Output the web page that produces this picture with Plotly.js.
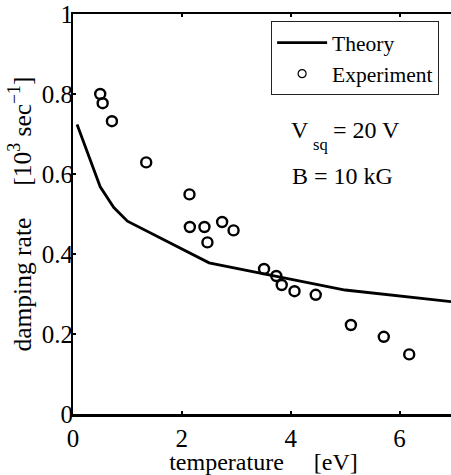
<!DOCTYPE html>
<html>
<head>
<meta charset="utf-8">
<script src="https://cdn.plot.ly/plotly-3.0.1.min.js"></script>
<style>
html,body{margin:0;padding:0;overflow:hidden;background:#fff;}
#chart{width:455px;height:475px;}
</style>
</head>
<body>
<div id="chart"></div>
<script>
// Theory curve
var theoryT = [0.075, 0.25, 0.5, 0.75, 1.0, 2.5, 5.0, 7.0];
var theoryRate = [0.724, 0.661, 0.568, 0.516, 0.482, 0.378, 0.31, 0.28];

// Experiment points
var expT = [0.50, 0.545, 0.715, 1.345, 2.14, 2.147, 2.415, 2.47, 2.74, 2.95, 3.51, 3.735, 3.835, 4.07, 4.46, 5.106, 5.71, 6.177];
var expRate = [0.80, 0.777, 0.732, 0.629, 0.549, 0.4675, 0.4675, 0.429, 0.48, 0.459, 0.3625, 0.345, 0.3225, 0.307, 0.298, 0.2225, 0.193, 0.149];

var xTicks = [0, 2, 4, 6];
var yTicks = [0, 0.2, 0.4, 0.6, 0.8, 1];
var yTickText = ['0', '0.2', '0.4', '0.6', '0.8', '1'];

var serif = 'Liberation Serif, Times New Roman, serif';

var traces = [
  {x: theoryT, y: theoryRate, mode: 'lines', name: 'Theory',
   line: {color: '#000', width: 2.8}, hoverinfo: 'skip'},
  {x: expT, y: expRate, mode: 'markers', name: 'Experiment', showlegend: false,
   marker: {symbol: 'circle-open', size: 10, color: '#000', line: {color: '#000', width: 2.4}}},
  {x: [null], y: [null], mode: 'markers', name: 'Experiment',
   marker: {symbol: 'circle-open', size: 8, color: '#000', line: {color: '#000', width: 1.2}}},
  // carrier for the y tick labels (drawn on an overlaid axis so they sit close to the frame)
  {x: [null], y: [null], yaxis: 'y2', showlegend: false, hoverinfo: 'skip', mode: 'markers'}
];

var annFont = function (s) { return {family: serif, size: s, color: '#000'}; };

var layout = {
  width: 455, height: 475,
  margin: {l: 73, r: 1, t: 14, b: 61},
  paper_bgcolor: '#fff', plot_bgcolor: '#fff',
  font: {family: serif, size: 24, color: '#000'},
  showlegend: true,
  legend: {x: 0.52, y: 0.982, xanchor: 'left', yanchor: 'top',
    bgcolor: '#fff', bordercolor: '#222', borderwidth: 1,
    font: {family: serif, size: 21.5, color: '#000'},
    itemwidth: 50, tracegroupgap: 0},
  xaxis: {range: [0, 7], tickvals: xTicks, ticktext: xTicks.map(String),
    ticks: 'inside', ticklen: 3, tickwidth: 2, tickcolor: '#000',
    showline: true, linecolor: '#000', linewidth: 2.5, mirror: 'ticks',
    showgrid: false, zeroline: false,
    tickfont: {family: serif, size: 25, color: '#000'},
    title: {text: 'temperature\u00a0\u00a0\u00a0\u00a0\u00a0[eV]', font: {family: serif, size: 24, color: '#000'}, standoff: 0}},
  yaxis: {range: [0, 1], tickvals: yTicks, showticklabels: false,
    ticks: 'inside', ticklen: 3, tickwidth: 2, tickcolor: '#000',
    showline: true, linecolor: '#000', linewidth: 2.5, mirror: 'ticks',
    showgrid: false, zeroline: false, automargin: false,
    title: {text: 'damping rate\u00a0\u00a0\u00a0\u00a0\u00a0[10<sup>3</sup> sec<sup>\u22121</sup>]', font: {family: serif, size: 25.5, color: '#000'}, standoff: 32}},
  yaxis2: {range: [0, 1], overlaying: 'y', anchor: 'free', position: 0, side: 'left',
    tickvals: yTicks, ticktext: yTickText, ticks: '', showline: false,
    showgrid: false, zeroline: false, automargin: false,
    tickfont: {family: serif, size: 25, color: '#000'}},
  annotations: [
    {xref: 'paper', yref: 'paper', x: 0.5696, y: 0.711, xanchor: 'left', yanchor: 'middle', align: 'left',
     text: 'V', showarrow: false, font: annFont(24), borderpad: 0},
    {xref: 'paper', yref: 'paper', x: 0.627, y: 0.673, xanchor: 'left', yanchor: 'middle', align: 'left',
     text: 'sq', showarrow: false, font: annFont(16.5), borderpad: 0},
    {xref: 'paper', yref: 'paper', x: 0.6798, y: 0.711, xanchor: 'left', yanchor: 'middle', align: 'left',
     text: '= 20 V', showarrow: false, font: annFont(24), borderpad: 0},
    {xref: 'paper', yref: 'paper', x: 0.5723, y: 0.595, xanchor: 'left', yanchor: 'middle', align: 'left',
     text: 'B = 10 kG', showarrow: false, font: annFont(24), borderpad: 0}
  ]
};

Plotly.newPlot('chart', traces, layout, {displayModeBar: false, staticPlot: true});
</script>
</body>
</html>
